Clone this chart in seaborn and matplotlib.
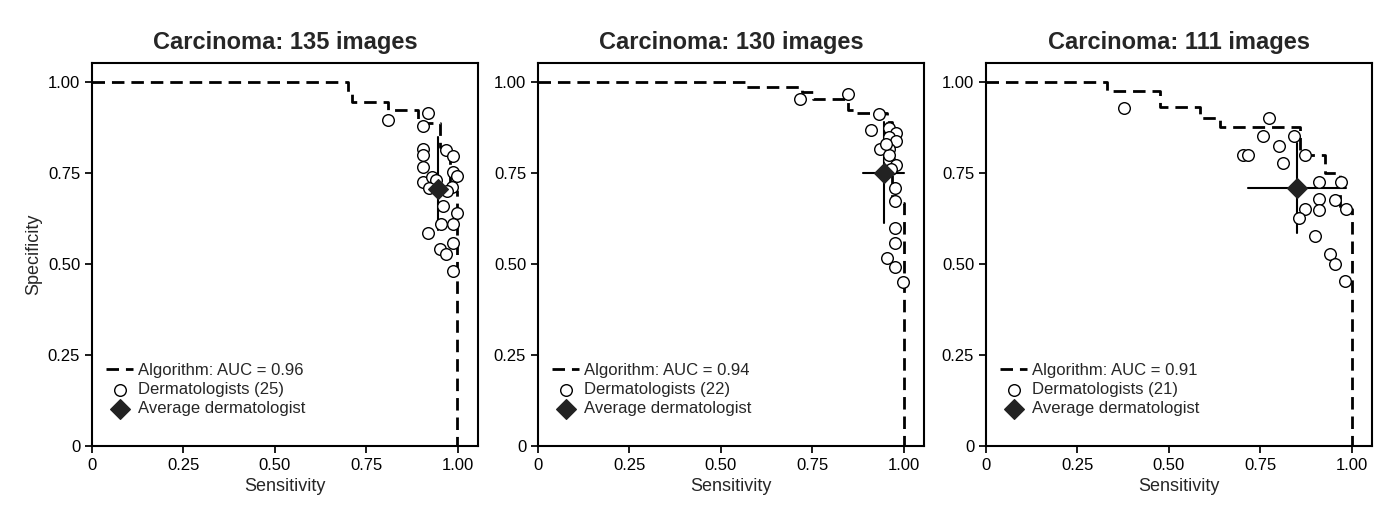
import matplotlib
matplotlib.use("Agg")
import matplotlib.pyplot as plt
import seaborn as sns
import pandas as pd

sns.set_theme(style="ticks")
plt.rcParams['font.family'] = ['Liberation Sans', 'DejaVu Sans']

titles = ["Carcinoma: 135 images", "Carcinoma: 130 images", "Carcinoma: 111 images"]
aucs = ["0.96", "0.94", "0.91"]
n_derm = [25, 22, 21]

roc_x = [
    [0, 0.70, 0.71, 0.81, 0.89, 0.95, 0.978, 0.997],
    [0, 0.568, 0.721, 0.751, 0.847, 0.868, 0.954, 0.967, 1.0],
    [0, 0.33, 0.475, 0.585, 0.64, 0.858, 0.926, 0.967, 1.0],
]
roc_y = [
    [1, 0.97, 0.945, 0.923, 0.887, 0.82, 0.70, 0],
    [1, 0.986, 0.973, 0.953, 0.923, 0.915, 0.89, 0.667, 0],
    [1, 0.975, 0.93, 0.90, 0.875, 0.80, 0.75, 0.65, 0],
]

derm_sens = [
    [0.81, 0.918, 0.905, 0.905, 0.905, 0.905, 0.905, 0.93, 0.967, 0.986, 0.986, 0.997, 0.984,
     0.997, 0.954, 0.986, 0.918, 0.986, 0.95, 0.967, 0.986, 0.97, 0.94, 0.96, 0.92],
    [0.716, 0.847, 0.932, 0.91, 0.959, 0.978, 0.959, 0.978, 0.959, 0.934, 0.959, 0.978, 0.975,
     0.975, 0.975, 0.975, 0.954, 0.975, 0.997, 0.96, 0.95, 0.965],
    [0.377, 0.773, 0.757, 0.80, 0.842, 0.702, 0.716, 0.872, 0.812, 0.91, 0.97, 0.91, 0.91,
     0.954, 0.872, 0.984, 0.855, 0.899, 0.94, 0.954, 0.981],
]
derm_spec = [
    [0.896, 0.915, 0.88, 0.816, 0.80, 0.767, 0.725, 0.74, 0.813, 0.797, 0.753, 0.742, 0.712,
     0.64, 0.61, 0.61, 0.585, 0.557, 0.54, 0.527, 0.48, 0.70, 0.73, 0.66, 0.71],
    [0.953, 0.967, 0.912, 0.868, 0.874, 0.86, 0.849, 0.838, 0.816, 0.816, 0.786, 0.772, 0.709,
     0.673, 0.599, 0.558, 0.516, 0.492, 0.45, 0.80, 0.83, 0.76],
    [0.929, 0.901, 0.852, 0.824, 0.852, 0.80, 0.80, 0.80, 0.777, 0.725, 0.725, 0.678, 0.648,
     0.676, 0.651, 0.651, 0.626, 0.577, 0.527, 0.50, 0.453],
]

avg_sens = [0.945, 0.945, 0.85]
avg_spec = [0.706, 0.75, 0.709]
sens_lo = [0.915, 0.888, 0.716]
sens_hi = [0.992, 1.0, 0.984]
spec_lo = [0.593, 0.613, 0.585]
spec_hi = [0.849, 0.89, 0.832]

fig = plt.figure(figsize=(14, 5.28), dpi=100)
lefts = [92, 538, 986]
ticks = [0, 0.25, 0.5, 0.75, 1.0]
ticklabels = ["0", "0.25", "0.50", "0.75", "1.00"]
for i in range(3):
    ax = fig.add_axes([lefts[i] / 1400, (528 - 446) / 528, 386 / 1400, 383 / 528])
    roc = pd.DataFrame({"x": roc_x[i], "y": roc_y[i]})
    sns.lineplot(data=roc, x="x", y="y", ax=ax, sort=False, estimator=None,
                 drawstyle="steps-post", color="black", lw=2, dashes=False,
                 linestyle=(0, (4.5, 2.5)), label=f"Algorithm: AUC = {aucs[i]}")
    ax.plot([sens_lo[i], sens_hi[i]], [avg_spec[i]] * 2, color="black", lw=1.5)
    ax.plot([avg_sens[i]] * 2, [spec_lo[i], spec_hi[i]], color="black", lw=1.5)
    dd = pd.DataFrame({"x": derm_sens[i], "y": derm_spec[i]})
    sns.scatterplot(data=dd, x="x", y="y", ax=ax, marker="o", s=70, facecolor="white",
                    edgecolor="black", linewidth=1, label=f"Dermatologists ({n_derm[i]})", zorder=3)
    ax.scatter([avg_sens[i]], [avg_spec[i]], marker="D", s=100, color="#222222",
               zorder=4, label="Average dermatologist")
    ax.set_xlim(0, 1.055)
    ax.set_ylim(0, 1.052)
    ax.set_xticks(ticks, ticklabels)
    ax.set_yticks(ticks, ticklabels)
    ax.tick_params(labelsize=12, length=5, color="black", labelcolor="black")
    for s in ax.spines.values():
        s.set_color("black")
        s.set_linewidth(1.5)
    ax.set_xlabel("Sensitivity", fontsize=13)
    ax.set_ylabel("Specificity" if i == 0 else "", fontsize=13)
    ax.set_title(titles[i], fontsize=17, fontweight="bold", pad=10)
    leg = ax.legend(loc="lower left", bbox_to_anchor=(0.02, 0.06), frameon=False,
                    fontsize=12, handlelength=1.6, handletextpad=0.3, borderaxespad=0,
                    labelspacing=0.25)
plt.savefig("out.png", dpi=100)
